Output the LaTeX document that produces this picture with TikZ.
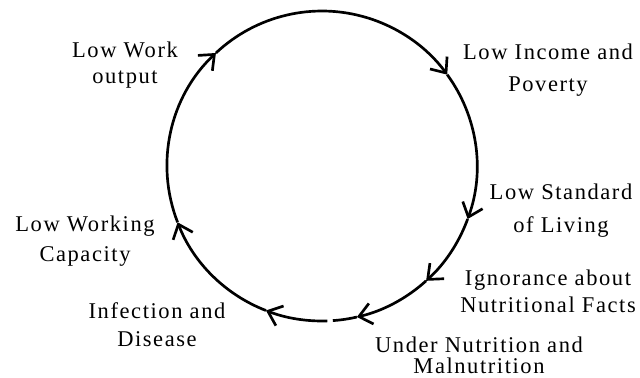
\documentclass[tikz,border=0pt]{standalone}
\usepackage{fontspec}
\setmainfont{Liberation Serif}[LetterSpace=7]
\usetikzlibrary{arrows.meta}
\tikzset{
  ring_arrow/.style={-{Straight Barb[length=9pt, width=15pt]}, line width=1.9pt},
  ring_line/.style={line width=1.9pt},
  stage_label/.style={font=\fontsize{16}{14.9}\selectfont, align=center, inner sep=0pt}
}
\begin{document}
\begin{tikzpicture}[x=0.025cm, y=0.025cm]
  \useasboundingbox (0,0) rectangle (640,377);

  % Stages of the cycle
  \node[stage_label] (work_output) at (125,312) {Low Work\\[3.6pt]output};
  \node[stage_label] (income) at (548,306.5) {Low Income and\\[7.9pt]Poverty};
  \node[stage_label] (standard) at (561,166) {Low Standard\\[8.6pt]of Living};
  \node[stage_label] (ignorance) at (548,86) {Ignorance about\\[4.3pt]Nutritional Facts};
  \node[stage_label] (under_nutrition) at (479,22) {Under Nutrition and\\Malnutrition};
  \node[stage_label] (infection) at (157,52.5) {Infection and\\[5pt]Disease};
  \node[stage_label] (work_capacity) at (85,135.5) {Low Working\\[6.4pt]Capacity};

  % Ring with arrow heads
  \begin{scope}[shift={(322,211)}]
    \foreach \name/\ang in {gap_end/-88, tip_infection/-111.2, tip_capacity/-158.7,
        tip_output/133.2, tip_income/36.1, tip_standard/-20, tip_ignorance/-47.8,
        tip_under/-77}
      \coordinate (\name) at (\ang:155);

    \foreach \from/\s/\e in {gap_end/-88/-111.2, tip_infection/-111.2/-158.7,
        tip_capacity/-158.7/-226.8, tip_output/133.2/36.1, tip_income/36.1/-20,
        tip_standard/-20/-47.8, tip_ignorance/-47.8/-77}
      \draw[ring_arrow] (\from) arc[start angle=\s, end angle=\e, radius=155];

    \draw[ring_line] (tip_under) arc[start angle=-77, end angle=-86, radius=155];
  \end{scope}
\end{tikzpicture}
\end{document}
